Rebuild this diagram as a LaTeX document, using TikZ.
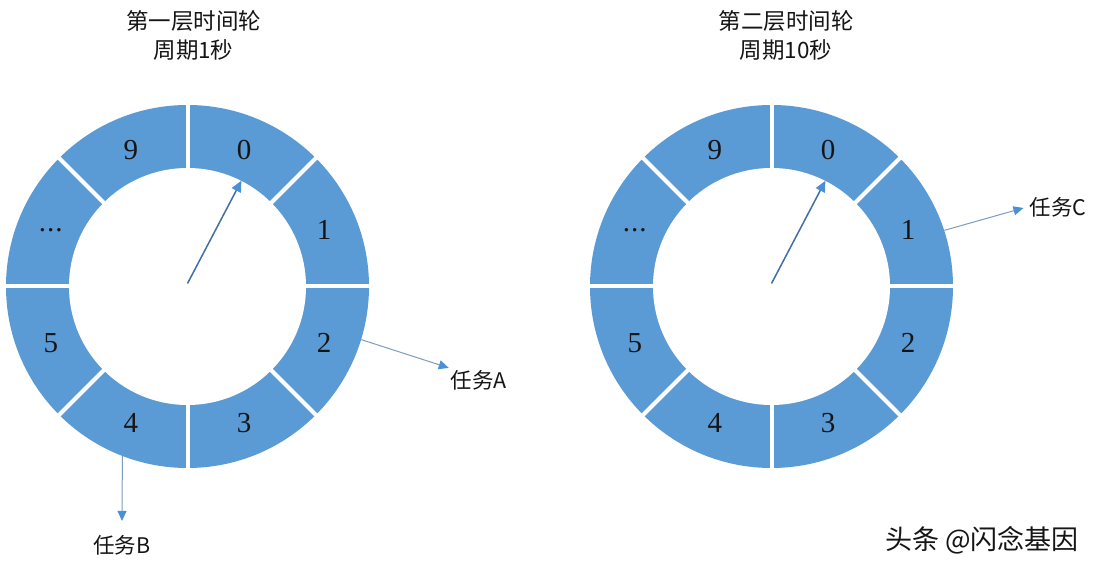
\documentclass[tikz,border=0pt]{standalone}
\usepackage{fontspec}
\setmainfont{Liberation Serif}
\newfontfamily\cjk{Noto Sans CJK SC}
\usetikzlibrary{arrows.meta}
\newcommand\myslotdots{.\kern1pt.\kern1pt.}
\definecolor{ringblue}{HTML}{5B9BD5}
\definecolor{handblue}{HTML}{3F6FA6}
\definecolor{tipblue}{HTML}{4A90D9}
\definecolor{linegrey}{HTML}{7F9CBD}
\definecolor{txt}{HTML}{151515}
\tikzset{
  x=1pt, y=1pt,
  ring/.style={circle, inner sep=0pt, minimum size=363pt, fill=ringblue},
  hole/.style={circle, inner sep=0pt, minimum size=237pt, fill=white},
  slotlabel/.style={inner sep=0pt, text=txt, font=\fontsize{29}{32}\selectfont},
  title/.style={inner sep=0pt, text=txt, align=center, font=\cjk\fontsize{22.5}{29}\selectfont},
  tasklabel/.style={inner sep=0pt, text=txt, font=\cjk\fontsize{21.5}{24}\selectfont},
  gap/.style={white, line width=4pt},
  hand/.style={handblue, line width=1.5pt, -{Triangle[length=11pt, width=10pt, color=tipblue, fill=tipblue]}},
  taskarrow/.style={linegrey, line width=1pt, -{Triangle[length=10pt, width=9pt, color=tipblue, fill=tipblue]}}
}
\begin{document}
\begin{tikzpicture}
\useasboundingbox (0,0) rectangle (1100,572);
\fill[white] (0,0) rectangle (1100,572);

% titles
\node[title] (t1a) at (193.5,551) {第一层时间轮};
\node[title] (t1b) at (193.5,522) {周期1秒};
\node[title] (t2a) at (786,551) {第二层时间轮};
\node[title] (t2b) at (786,522) {周期10秒};

% rings
\foreach \n/\cx in {L/187.5, R/771.5} {
  \node[ring] (ring\n) at (\cx,285.5) {};
  \node[hole] (hole\n) at (\cx,285.5) {};
  \foreach \a in {0,45,...,315} {
    \draw[gap] ([shift={(\a:110pt)}]ring\n.center) -- ([shift={(\a:186pt)}]ring\n.center);
  }
  \foreach \lab/\a [count=\i] in {0/67.5, 1/22.5, 2/-22.5, 3/-67.5, 4/-112.5, 5/-157.5, \myslotdots/157.5, 9/112.5} {
    \node[slotlabel] (s\n\i) at ([shift={(\a:148pt)}]ring\n.center) {\lab};
  }
  \draw[hand] ([yshift=3pt]ring\n.center) -- (hole\n.63.5);
}

% tasks
\node[tasklabel] (taskA) at (479,192) {任务A};
\node[tasklabel] (taskB) at (122,27) {任务B};
\node[tasklabel] (taskC) at (1058,365) {任务C};

\draw[taskarrow] (ringL.-17) -- ([shift={(-2pt,2pt)}]taskA.north west);
\draw[taskarrow] (ringL.-111.2) -- ([yshift=14pt]taskB.north);
\draw[taskarrow] (ringR.18) -- ([xshift=-6pt,yshift=-1pt]taskC.west);

% watermark
\node[inner sep=0pt, text=txt, font=\cjk\fontsize{27}{30}\selectfont] (wm) at (982,32) {头条 @闪念基因};
\end{tikzpicture}
\end{document}
